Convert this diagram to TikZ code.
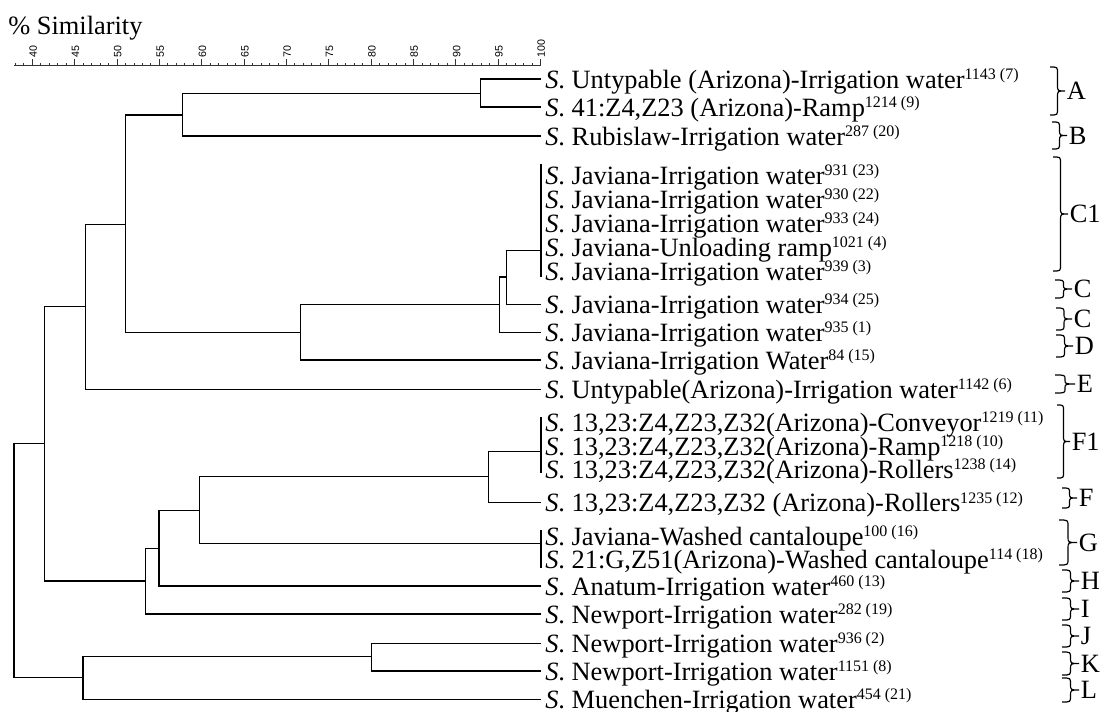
\documentclass[tikz,border=0pt]{standalone}
\usepackage{fontspec}
\setmainfont{Liberation Serif}
\newfontfamily\axisfont{Liberation Sans}
\newcommand\sups[1]{\raisebox{6.4pt}{\fontsize{12}{12}\selectfont #1}}
\newcommand\Sx{\textit{S}.}
\newcommand\grp[6]{%
  \pgfmathsetmacro\gm{(#4+#5)/2}%
  \pgfmathsetmacro\gs{(#2+#3)/2}%
  \pgfmathsetmacro\gr{min(6,(#5-#4)/4)}%
  \draw[brc] (#2,#4) .. controls (\gs,#4) .. (\gs,#4+\gr) -- (\gs,\gm-\gr)
     .. controls (\gs,\gm) .. (#3,\gm) .. controls (\gs,\gm) .. (\gs,\gm+\gr)
     -- (\gs,#5-\gr) .. controls (\gs,#5) .. (#2,#5);
  \node[grplab] (#1) at (#3+1.5,\gm) {#6};%
}
\begin{document}
\begin{tikzpicture}[x=0.75pt,y=-0.75pt,
  tree/.style={line width=1pt, draw=black},
  axisln/.style={line width=0.6pt, draw=black!80},
  brc/.style={line width=0.9pt},
  leaf/.style={anchor=base west, inner sep=0pt, font=\fontsize{19.8}{20}\selectfont},
  grplab/.style={anchor=west, inner sep=0pt, font=\fontsize{19.8}{20}\selectfont},
  ticklab/.style={anchor=west, rotate=90, inner sep=0pt, font=\axisfont\fontsize{8}{8}\selectfont},
]
\useasboundingbox (0,0) rectangle (1106,711);

% title
\node[leaf] (title) at (8,34) {\% Similarity};

% axis
\coordinate (ax0) at (14,65.5);
\coordinate (ax1) at (540.6,65.5);
\draw[axisln] (ax0) -- (ax1);
\foreach \v in {38,...,100}{
  \pgfmathsetmacro\tx{32.3+(\v-40)*8.47}
  \draw[axisln] (\tx,65.5) -- (\tx,62.5);
}
\foreach \v in {40,45,...,100}{
  \pgfmathsetmacro\tx{32.3+(\v-40)*8.47}
  \draw[axisln] (\tx,65.5) -- (\tx,59);
  \node[ticklab] (tl\v) at (\tx+0.8,57.5) {\v};
}

% leaf end points
\coordinate (l1) at (541,79);
\coordinate (l2) at (541,107);
\coordinate (l3) at (541,136);
\coordinate (c1top) at (541,164);
\coordinate (c1bot) at (541,277);
\coordinate (nC1) at (541,250.7);
\coordinate (l9) at (541,304.3);
\coordinate (l10) at (541,332.3);
\coordinate (l11) at (541,360);
\coordinate (l12) at (541,389.3);
\coordinate (f1top) at (541,417.3);
\coordinate (f1bot) at (541,473.3);
\coordinate (nF1) at (541,451.7);
\coordinate (l16) at (541,502.7);
\coordinate (gtop) at (541,530);
\coordinate (gbot) at (541,567.7);
\coordinate (nG) at (541,543.3);
\coordinate (l19) at (541,586);
\coordinate (l20) at (541,614);
\coordinate (l21) at (541,643.3);
\coordinate (l22) at (541,671);
\coordinate (l23) at (541,699.3);

% internal nodes
\coordinate (nA) at (480.7,93.3);
\coordinate (nAB) at (182.3,115);
\coordinate (nC1x) at (506.7,277);
\coordinate (nC2) at (499.7,304.3);
\coordinate (nCD) at (300.7,332.3);
\coordinate (nABCD) at (125.3,224.3);
\coordinate (nE) at (85.7,306.7);
\coordinate (nTop) at (44.7,443.3);
\coordinate (nF) at (488.3,476.7);
\coordinate (nFG) at (199.7,510.7);
\coordinate (nFGH) at (159,548.7);
\coordinate (nFGHI) at (145.3,581);
\coordinate (nJK) at (371.7,656.7);
\coordinate (nJKL) at (83,677.3);
\coordinate (root) at (14,560);

% dendrogram
\draw[tree] (l1) -| (nA) |- (l2);
\draw[tree] (nA) -| (nAB) |- (l3);
\draw[tree] (c1top) -- (c1bot);
\draw[tree] (nC1) -| (nC1x) |- (l9);
\draw[tree] (nC1x) -| (nC2) |- (l10);
\draw[tree] (nC2) -| (nCD) |- (l11);
\draw[tree] (nAB) -| (nABCD) |- (nCD);
\draw[tree] (nABCD) -| (nE) |- (l12);
\draw[tree] (nE) -| (nTop) |- (nFGHI);
\draw[tree] (f1top) -- (f1bot);
\draw[tree] (nF1) -| (nF) |- (l16);
\draw[tree] (gtop) -- (gbot);
\draw[tree] (nF) -| (nFG) |- (nG);
\draw[tree] (nFG) -| (nFGH) |- (l19);
\draw[tree] (nFGH) -| (nFGHI) |- (l20);
\draw[tree] (l21) -| (nJK) |- (l22);
\draw[tree] (nJK) -| (nJKL) |- (l23);
\draw[tree] (nTop) -| (root) |- (nJKL);

% leaf labels
\node[leaf] (t1) at (545,88) {\Sx{} Untypable (Arizona)-Irrigation water\sups{1143 (7)}};
\node[leaf] (t2) at (545,116) {\Sx{} 41:Z4,Z23 (Arizona)-Ramp\sups{1214 (9)}};
\node[leaf] (t3) at (545,145) {\Sx{} Rubislaw-Irrigation water\sups{287 (20)}};
\node[leaf] (t4) at (545,184) {\Sx{} Javiana-Irrigation water\sups{931 (23)}};
\node[leaf] (t5) at (545,208) {\Sx{} Javiana-Irrigation water\sups{930 (22)}};
\node[leaf] (t6) at (545,232) {\Sx{} Javiana-Irrigation water\sups{933 (24)}};
\node[leaf] (t7) at (545,256) {\Sx{} Javiana-Unloading ramp\sups{1021 (4)}};
\node[leaf] (t8) at (545,280) {\Sx{} Javiana-Irrigation water\sups{939 (3)}};
\node[leaf] (t9) at (545,313) {\Sx{} Javiana-Irrigation water\sups{934 (25)}};
\node[leaf] (t10) at (545,341) {\Sx{} Javiana-Irrigation water\sups{935 (1)}};
\node[leaf] (t11) at (545,369) {\Sx{} Javiana-Irrigation Water\sups{84 (15)}};
\node[leaf] (t12) at (545,398) {\Sx{} Untypable(Arizona)-Irrigation water\sups{1142 (6)}};
\node[leaf] (t13) at (545,431.5) {\Sx{} 13,23:Z4,Z23,Z32(Arizona)-Conveyor\sups{1219 (11)}};
\node[leaf] (t14) at (545,455) {\Sx{} 13,23:Z4,Z23,Z32(Arizona)-Ramp\sups{1218 (10)}};
\node[leaf] (t15) at (545,478.5) {\Sx{} 13,23:Z4,Z23,Z32(Arizona)-Rollers\sups{1238 (14)}};
\node[leaf] (t16) at (545,511.7) {\Sx{} 13,23:Z4,Z23,Z32 (Arizona)-Rollers\sups{1235 (12)}};
\node[leaf] (t17) at (545,545) {\Sx{} Javiana-Washed cantaloupe\sups{100 (16)}};
\node[leaf] (t18) at (545,568) {\Sx{} 21:G,Z51(Arizona)-Washed cantaloupe\sups{114 (18)}};
\node[leaf] (t19) at (545,595) {\Sx{} Anatum-Irrigation water\sups{460 (13)}};
\node[leaf] (t20) at (545,623) {\Sx{} Newport-Irrigation water\sups{282 (19)}};
\node[leaf] (t21) at (545,652) {\Sx{} Newport-Irrigation water\sups{936 (2)}};
\node[leaf] (t22) at (545,680) {\Sx{} Newport-Irrigation water\sups{1151 (8)}};
\node[leaf] (t23) at (545,708) {\Sx{} Muenchen-Irrigation water\sups{454 (21)}};

% group braces
\grp{gA}{1050}{1065}{67}{115}{A}
\grp{gB}{1052}{1067}{122}{149}{B}
\grp{gC1}{1053}{1068}{157}{271}{C1}
\grp{gCa}{1055}{1072}{280}{298}{C}
\grp{gCb}{1056}{1072}{308}{330}{C}
\grp{gD}{1056}{1073}{335}{357}{D}
\grp{gE}{1055}{1075}{375}{393}{E}
\grp{gF1}{1057}{1070}{405}{478}{F1}
\grp{gF}{1062}{1077}{488}{508}{F}
\grp{gG}{1059}{1077}{520}{565}{G}
\grp{gH}{1062}{1079}{570}{592}{H}
\grp{gI}{1062}{1079}{598}{620}{I}
\grp{gJ}{1062}{1079}{625}{647}{J}
\grp{gK}{1062}{1079}{652}{675}{K}
\grp{gL}{1062}{1079}{678}{702}{L}
\end{tikzpicture}
\end{document}
